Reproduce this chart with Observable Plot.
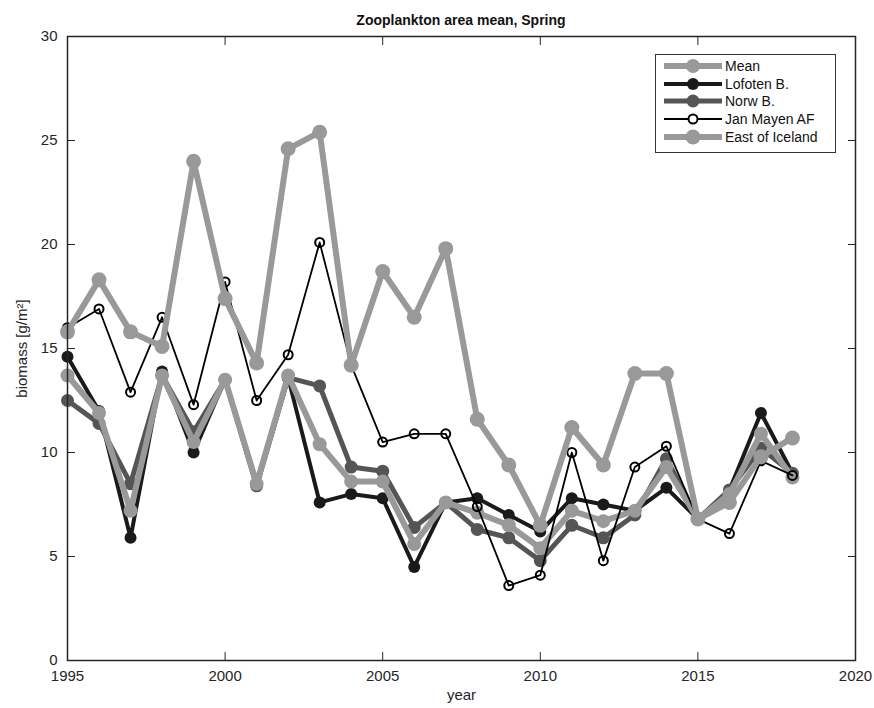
<!DOCTYPE html>
<html>
<head>
<meta charset="utf-8">
<script src="https://cdn.jsdelivr.net/npm/d3@7"></script>
<script src="https://cdn.jsdelivr.net/npm/@observablehq/plot@0.6"></script>
<style>
  html, body { margin: 0; padding: 0; background: #fff; }
  #wrap { position: relative; width: 874px; height: 708px; font-family: "Liberation Sans", Arial, Helvetica, sans-serif; }
  #title { position: absolute; left: 67px; width: 788px; top: 10px; text-align: center; font-size: 14px; font-weight: bold; color: #111; line-height: 20px; }
  #legend { position: absolute; left: 655px; top: 54px; width: 181px; height: 99px; border: 1.6px solid #333; background: #fff; box-sizing: border-box; padding-top: 2px; }
  .row { height: 17.7px; display: flex; align-items: center; font-size: 14px; color: #111; }
  .row svg { margin-left: 8px; margin-right: 3px; }
</style>
</head>
<body>
<div id="wrap">
  <div id="chart"></div>
  <div id="title">Zooplankton area mean, Spring</div>
  <div id="legend"></div>
</div>
<script>
const years = [1995,1996,1997,1998,1999,2000,2001,2002,2003,2004,2005,2006,2007,2008,2009,2010,2011,2012,2013,2014,2015,2016,2017,2018];
const meanVals    = [13.7,11.9,7.2,13.7,10.5,13.5,8.5,13.7,10.4,8.6,8.6,5.6,7.6,7.1,6.5,5.4,7.2,6.7,7.2,9.3,6.8,8.0,10.9,8.8];
const lofotenVals = [14.6,12.0,5.9,13.9,10.0,13.5,8.4,13.6,7.6,8.0,7.8,4.5,7.6,7.8,7.0,6.2,7.8,7.5,7.2,8.3,6.8,8.2,11.9,9.0];
const norwVals    = [12.5,11.4,8.5,13.7,11.0,13.5,8.4,13.6,13.2,9.3,9.1,6.4,7.6,6.3,5.9,4.8,6.5,5.9,7.0,9.7,6.8,8.2,10.2,9.0];
const janMayenVals= [16.0,16.9,12.9,16.5,12.3,18.2,12.5,14.7,20.1,14.2,10.5,10.9,10.9,7.4,3.6,4.1,10.0,4.8,9.3,10.3,6.8,6.1,9.6,8.9];
const eastIcelandVals = [15.8,18.3,15.8,15.1,24.0,17.4,14.3,24.6,25.4,14.2,18.7,16.5,19.8,11.6,9.4,6.5,11.2,9.4,13.8,13.8,6.8,7.6,9.8,10.7];
const seriesNames = ["Mean","Lofoten B.","Norw B.","Jan Mayen AF","East of Iceland"];
const xTicks = [1995,2000,2005,2010,2015,2020];
const yTicks = [0,5,10,15,20,25,30];

const styles = {
  "Mean":            {color: "#999999", width: 6,   r: 7,   fill: "#999999", ms: 0},
  "Lofoten B.":      {color: "#1a1a1a", width: 4,   r: 6,   fill: "#1a1a1a", ms: 0},
  "Norw B.":         {color: "#555555", width: 5,   r: 6.5, fill: "#555555", ms: 0},
  "Jan Mayen AF":    {color: "#000000", width: 1.8, r: 4.5, fill: "none",    ms: 2},
  "East of Iceland": {color: "#999999", width: 6,   r: 7.5, fill: "#999999", ms: 0}
};
const valuesBy = {
  "Mean": meanVals, "Lofoten B.": lofotenVals, "Norw B.": norwVals,
  "Jan Mayen AF": janMayenVals, "East of Iceland": eastIcelandVals
};
const drawOrder = ["Lofoten B.","Norw B.","Mean","Jan Mayen AF","East of Iceland"];

const marks = [];
for (const name of drawOrder) {
  const s = styles[name];
  const data = years.map((y, i) => ({year: y, value: valuesBy[name][i]}));
  marks.push(Plot.line(data, {x: "year", y: "value", stroke: s.color, strokeWidth: s.width, strokeLinejoin: "round"}));
  marks.push(Plot.dot(data, {x: "year", y: "value", r: s.r, fill: s.fill, stroke: s.fill === "none" ? s.color : "none", strokeWidth: s.ms}));
}

const chart = Plot.plot({
  width: 874,
  height: 708,
  marginLeft: 67,
  marginRight: 19,
  marginTop: 36,
  marginBottom: 48,
  style: {fontFamily: "Liberation Sans, Arial, Helvetica, sans-serif", fontSize: "15px", color: "#262626", background: "#fff"},
  x: {domain: [1995, 2020]},
  y: {domain: [0, 30]},
  marks: [
    ...marks,
    Plot.frame({stroke: "#262626", strokeWidth: 1.5}),
    Plot.axisX({ticks: xTicks, tickFormat: "d", tickSize: -8, tickPadding: 18, label: "year", labelAnchor: "center", labelOffset: 39, labelArrow: "none"}),
    Plot.axisX({anchor: "top", ticks: xTicks, tickFormat: () => "", tickSize: -8, label: null}),
    Plot.axisY({ticks: yTicks, tickSize: -8, tickPadding: 18, label: "biomass [g/m²]", labelAnchor: "center", labelOffset: 51, labelArrow: "none"}),
    Plot.axisY({anchor: "right", ticks: yTicks, tickFormat: () => "", tickSize: -8, label: null})
  ]
});
document.getElementById("chart").appendChild(chart);

// legend
const legend = document.getElementById("legend");
for (const name of seriesNames) {
  const s = styles[name];
  const row = document.createElement("div");
  row.className = "row";
  const ns = "http://www.w3.org/2000/svg";
  const svg = document.createElementNS(ns, "svg");
  svg.setAttribute("width", 58); svg.setAttribute("height", 16);
  const line = document.createElementNS(ns, "line");
  line.setAttribute("x1", 0); line.setAttribute("x2", 58); line.setAttribute("y1", 8); line.setAttribute("y2", 8);
  line.setAttribute("stroke", s.color); line.setAttribute("stroke-width", s.width);
  svg.appendChild(line);
  const c = document.createElementNS(ns, "circle");
  c.setAttribute("cx", 29); c.setAttribute("cy", 8); c.setAttribute("r", s.r);
  c.setAttribute("fill", s.fill === "none" ? "#fff" : s.fill);
  if (s.fill === "none") { c.setAttribute("stroke", s.color); c.setAttribute("stroke-width", s.ms); }
  svg.appendChild(c);
  row.appendChild(svg);
  const t = document.createElement("span");
  t.textContent = name;
  row.appendChild(t);
  legend.appendChild(row);
}
</script>
</body>
</html>
